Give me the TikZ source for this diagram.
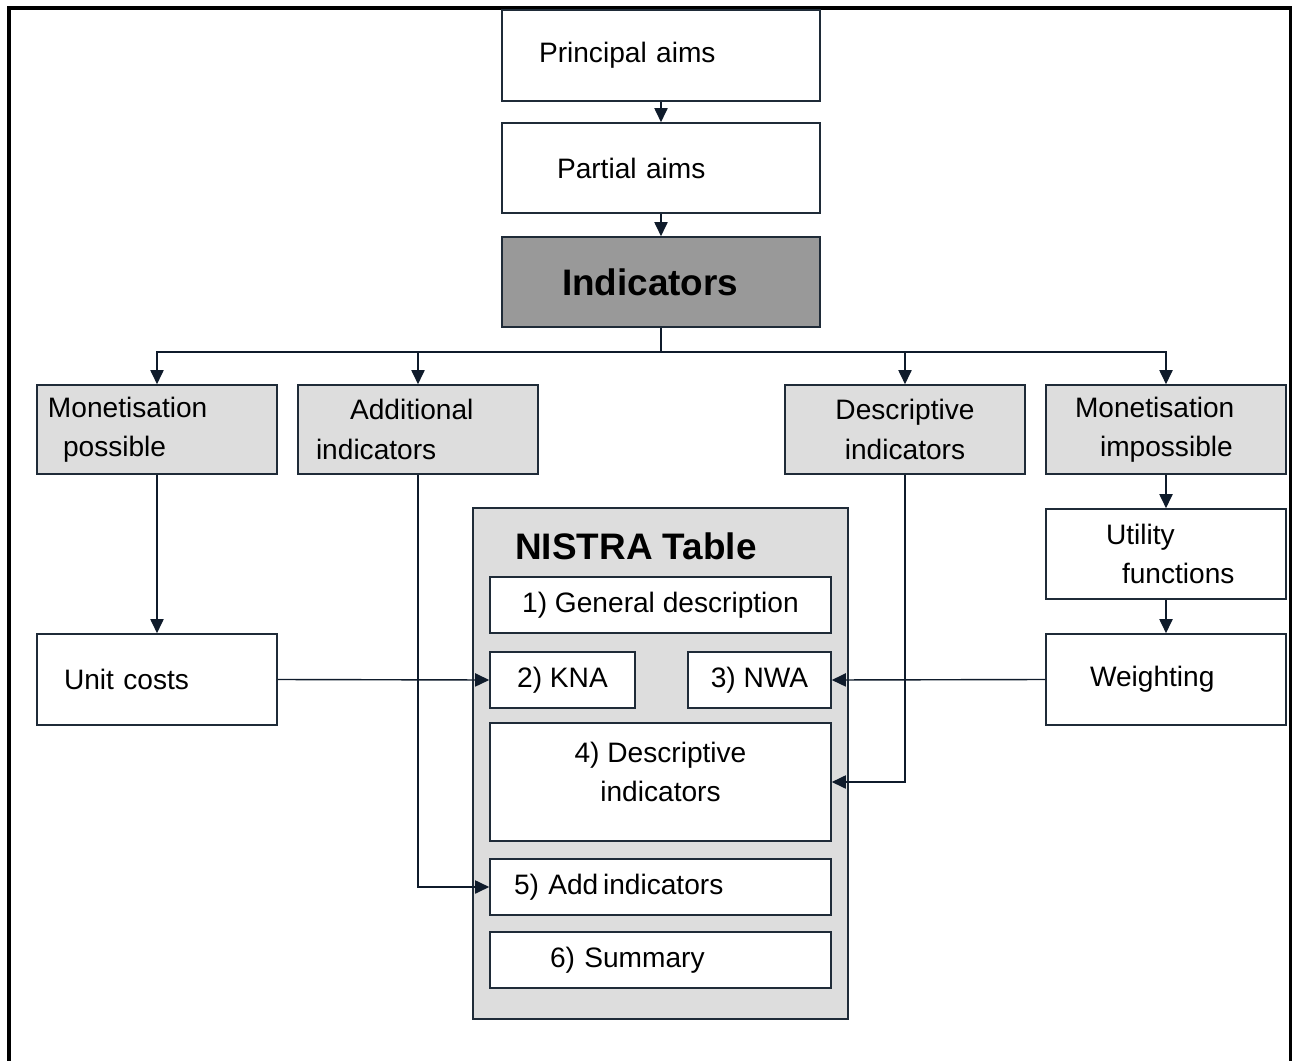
\documentclass[tikz,border=0pt]{standalone}
\usepackage{fontspec}
\setmainfont{Liberation Sans}
\usetikzlibrary{arrows.meta}
\newlength\pxu \setlength\pxu{0.02cm}
\definecolor{linec}{HTML}{0F1B2B}
\definecolor{boxc}{HTML}{1F2B38}
\definecolor{lgray}{HTML}{DDDDDD}
\definecolor{dgray}{HTML}{999999}

\begin{document}
\begin{tikzpicture}[x=0.02cm,y=-0.02cm,
  box/.style={draw=boxc,line width=0.9pt,fill=white,inner sep=0pt,
    font=\fontsize{16}{22.5}\selectfont},
  gbox/.style={box,fill=lgray},
  lft/.style={align=left,text width=#1\pxu},
  arr/.style={draw=linec,line width=0.8pt,-{Triangle[width=7.5pt,length=8pt]}},
  ln/.style={draw=linec,line width=0.8pt}]
\useasboundingbox (0,0) rectangle (1292,1061);
\draw[line width=1.8pt] (9,1070) -- (9,8) -- (1291,8) -- (1291,1070);

\node[box,lft=244,minimum width=318\pxu,minimum height=91\pxu] (pa) at (661,55.5) {Principal aims};
\node[box,lft=208,minimum width=318\pxu,minimum height=90\pxu] (pt) at (661,168) {Partial aims};
\node[box,fill=dgray,lft=198,minimum width=318\pxu,minimum height=90\pxu,
  font=\fontsize{21}{25}\selectfont\bfseries] (ind) at (661,282) {Indicators};

\node[gbox,lft=218,minimum width=240\pxu,minimum height=89\pxu] (mp) at (157,429.5)
  {Monetisation\\\hspace*{15\pxu}possible};
\node[gbox,lft=204,minimum width=240\pxu,minimum height=89\pxu] (ai) at (418,429.5)
  {\hspace*{34\pxu}Additional\\indicators};
\node[gbox,align=center,minimum width=240\pxu,minimum height=89\pxu] (di) at (905,429.5)
  {Descriptive\\indicators};
\node[gbox,lft=182,minimum width=240\pxu,minimum height=89\pxu] (mi) at (1166,429.5)
  {Monetisation\\\hspace*{25\pxu}impossible};

\node[box,lft=186,minimum width=240\pxu,minimum height=91\pxu] (uc) at (157,679.5) {Unit costs};
\node[box,lft=150,minimum width=240\pxu,minimum height=90\pxu] (uf) at (1166,554)
  {\hspace*{15\pxu}Utility\\\hspace*{31\pxu}functions};
\node[box,lft=152,minimum width=240\pxu,minimum height=91\pxu] (wt) at (1166,679.5) {Weighting};

\node[gbox,minimum width=375\pxu,minimum height=511\pxu] (nistra) at (660.5,763.5) {};
\node[anchor=west,inner sep=0pt,font=\fontsize{21}{25}\selectfont\bfseries] (title) at (515,546) {NISTRA Table};
\node[box,minimum width=341\pxu,minimum height=56\pxu] (gd) at (660.5,605) {1) General description};
\node[box,minimum width=145\pxu,minimum height=56\pxu] (kna) at (562.5,680) {2) KNA};
\node[box,minimum width=143\pxu,minimum height=56\pxu] (nwa) at (759.5,680) {3) NWA};
\node[box,align=center,text depth=20\pxu,minimum width=341\pxu,minimum height=118\pxu] (d4) at (660.5,782)
  {4) Descriptive\\indicators};
\node[box,lft=293,minimum width=341\pxu,minimum height=56\pxu] (add) at (660.5,887) {5) Add\,indicators};
\node[box,lft=221,minimum width=341\pxu,minimum height=56\pxu] (sum) at (660.5,960) {6) Summary};

\coordinate (bus) at (661,352);
\draw[arr] (pa) -- (pt);
\draw[arr] (pt) -- (ind);
\draw[ln] (ind.south) -- (bus);
\draw[arr] (bus) -| (mp.north);
\draw[arr] (bus) -| (ai.north);
\draw[arr] (bus) -| (di.north);
\draw[arr] (bus) -| (mi.north);
\draw[arr] (mp) -- (uc);
\draw[arr] (mi) -- (uf);
\draw[arr] (uf) -- (wt);
\draw[arr] (uc.east) -- (kna.west);
\draw[arr] (wt.west) -- (nwa.east);
\draw[arr] (ai.south) |- (add.west);
\draw[arr] (di.south) |- (d4.east);
\end{tikzpicture}
\end{document}
